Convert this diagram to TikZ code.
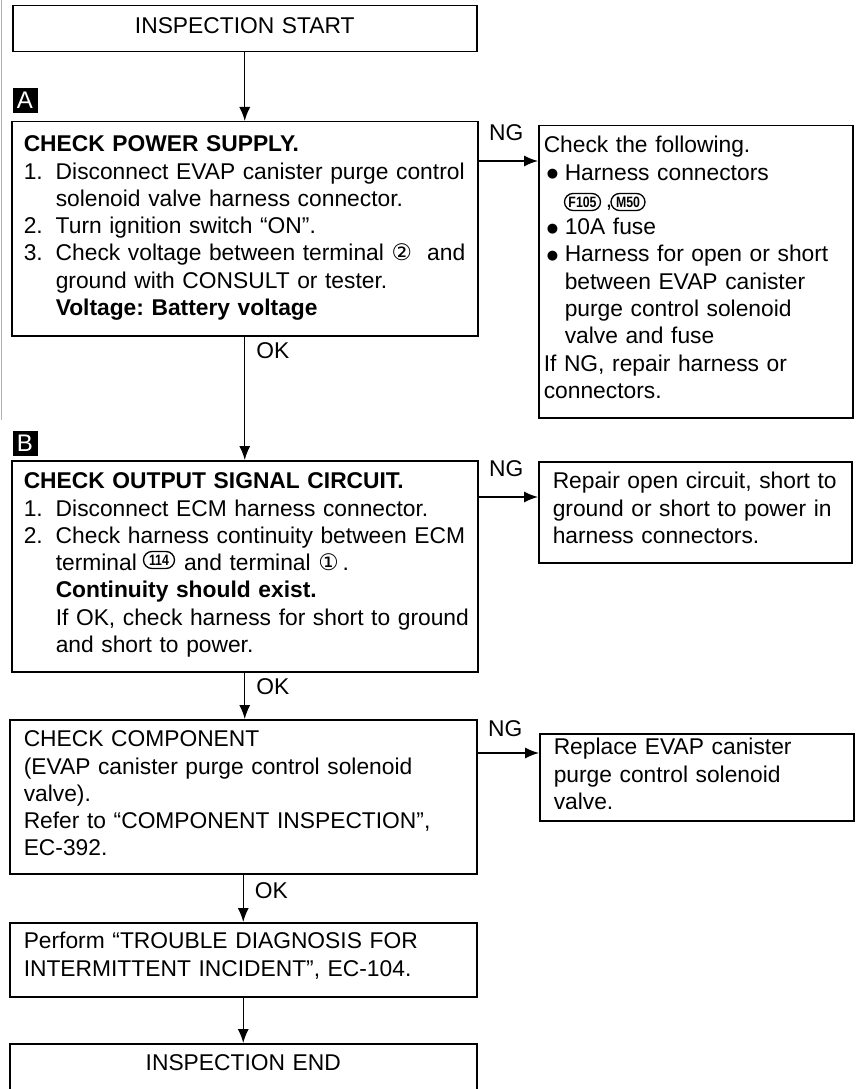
\documentclass[tikz,border=0pt]{standalone}
\usepackage{graphicx}
\usepackage{fontspec}
\setmainfont{Liberation Sans}
\newfontfamily\symfont{DejaVu Sans}
\usetikzlibrary{arrows.meta,positioning,calc}

% numbered steps and bulleted items inside the boxes
\newcommand{\stepno}[1]{\makebox[32pt][l]{#1}}
\newcommand{\contline}{\hspace*{32pt}}
\newcommand{\bulitem}{\hspace*{3pt}\makebox[18pt][l]{\raisebox{2.5pt}{\symfont\fontsize{13}{13}\selectfont ●}}}
\newcommand{\bulcont}{\hspace*{21pt}}
\newcommand{\cnum}[1]{{\symfont #1}}

\begin{document}
\begin{tikzpicture}[x=1pt,y=-1pt,>={Latex[length=14pt,width=11pt]},
  box/.style={draw,line width=1.5pt,anchor=north west,inner ysep=0pt,
    font=\fontsize{22.8}{27.3}\selectfont\frenchspacing},
  lbl/.style={inner sep=0pt,font=\fontsize{22.8}{27.3}\selectfont},
  badge/.style={draw,line width=1.3pt,rounded corners=8.5pt,minimum height=17pt,
    inner xsep=1pt,inner ysep=0pt,font=\fontsize{15}{15}\selectfont\bfseries},
  tag/.style={fill=black,text=white,minimum size=25pt,inner sep=0pt,
    font=\fontsize{24}{24}\selectfont}]
\useasboundingbox (0,0) rectangle (858,1089);
\draw[gray!60,line width=1pt] (1.5,0) -- (1.5,420);

% main column
\node[box,align=center,text width=464pt,inner xsep=0pt,text height=28pt,text depth=18pt] (start) at (12,5) {INSPECTION START};

\node[tag] (tagA) at (25,100.5) {A};
\node[box,align=left,text width=442pt,inner xsep=12pt,text height=30pt,text depth=184pt] (chkA) at (11,121) {%
\textbf{CHECK POWER SUPPLY.}\\
\stepno{1.}Disconnect EVAP canister purge control\\
\contline solenoid valve harness connector.\\
\stepno{2.}Turn ignition switch “ON”.\\
\stepno{3.}Check voltage between terminal \cnum{②}~ and\\
\contline ground with CONSULT or tester.\\
\contline\textbf{Voltage: Battery voltage}};

\node[tag] (tagB) at (25,443.5) {B};
\node[box,align=left,text width=442pt,inner xsep=12pt,text height=28pt,text depth=183pt] (chkB) at (11,460) {%
\textbf{CHECK OUTPUT SIGNAL CIRCUIT.}\\
\stepno{1.}Disconnect ECM harness connector.\\
\stepno{2.}Check harness continuity between ECM\\
\contline terminal \hspace*{32pt} and terminal \cnum{①}\,.\\
\contline\textbf{Continuity should exist.}\\
\contline\mbox{If OK, check harness for short to ground}\\
\contline and short to power.};

\node[box,align=left,text width=439pt,inner xsep=14pt,text height=27pt,text depth=127pt] (chkC) at (9,719) {%
CHECK COMPONENT\\
(EVAP canister purge control solenoid\\
valve).\\
Refer to “COMPONENT INSPECTION”,\\
EC-392.};

\node[box,align=left,text width=439pt,inner xsep=14pt,text height=26pt,text depth=48pt] (perf) at (9,922) {%
Perform “TROUBLE DIAGNOSIS FOR\\
INTERMITTENT INCIDENT”, EC-104.};

\node[box,align=center,text width=467pt,inner xsep=0pt,text height=27pt,text depth=60pt] (end) at (9,1043) {INSPECTION END};

% NG column
\node[box,align=left,text width=304pt,inner xsep=5pt,text height=27pt,text depth=265pt] (ngA) at (538,125) {%
Check the following.\\
\bulitem Harness connectors\\
\bulcont\hspace*{41pt},\\
\bulitem 10A fuse\\
\bulitem Harness for open or short\\
\bulcont between EVAP canister\\
\bulcont purge control solenoid\\
\bulcont valve and fuse\\
If NG, repair harness or\\
connectors.};
\node[badge,minimum width=36pt] (F105) at (582.5,202) {\scalebox{0.82}[1]{F105}};
\node[badge,minimum width=34pt] (M50) at (628,202) {\scalebox{0.82}[1]{M50}};

\node[box,align=left,text width=285pt,inner xsep=14pt,text height=27pt,text depth=74pt] (ngB) at (538,461) {%
Repair open circuit, short to\\
ground or short to power in\\
harness connectors.};
\node[badge,minimum width=31pt] (T114) at (159,560) {\scalebox{0.82}[1]{114}};

\node[box,align=left,text width=286pt,inner xsep=14pt,text height=21pt,text depth=66pt] (ngC) at (539,733) {%
Replace EVAP canister\\
purge control solenoid\\
valve.};

% connectors
\coordinate (ngA-out) at ($(chkA.north east)+(0,40)$);
\coordinate (ngB-out) at ($(chkB.north east)+(0,37)$);
\coordinate (ngC-out) at ($(chkC.north east)+(0,34)$);

\path[->,line width=1.3pt]
(start.south) edge (start.south |- chkA.north)
(chkA.south) edge node[lbl,pos=0,anchor=base west,xshift=11pt,yshift=-22pt] {OK} (chkA.south |- chkB.north)
(chkB.south) edge node[lbl,pos=0,anchor=base west,xshift=11pt,yshift=-22pt] {OK} (chkB.south |- chkC.north)
(chkC.south) edge node[lbl,pos=0,anchor=base west,xshift=11pt,yshift=-24pt] {OK} (chkC.south |- perf.north)
(perf.south) edge (perf.south |- end.north)
;
\path[->,line width=1.3pt]
(ngA-out) edge node[lbl,pos=0,anchor=base west,xshift=10pt,yshift=21pt] {NG} (ngA-out -| ngA.west)
(ngB-out) edge node[lbl,pos=0,anchor=base west,xshift=10pt,yshift=21pt] {NG} (ngB-out -| ngB.west)
(ngC-out) edge node[lbl,pos=0,anchor=base west,xshift=10pt,yshift=17pt] {NG} (ngC-out -| ngC.west)
;
\end{tikzpicture}
\end{document}
